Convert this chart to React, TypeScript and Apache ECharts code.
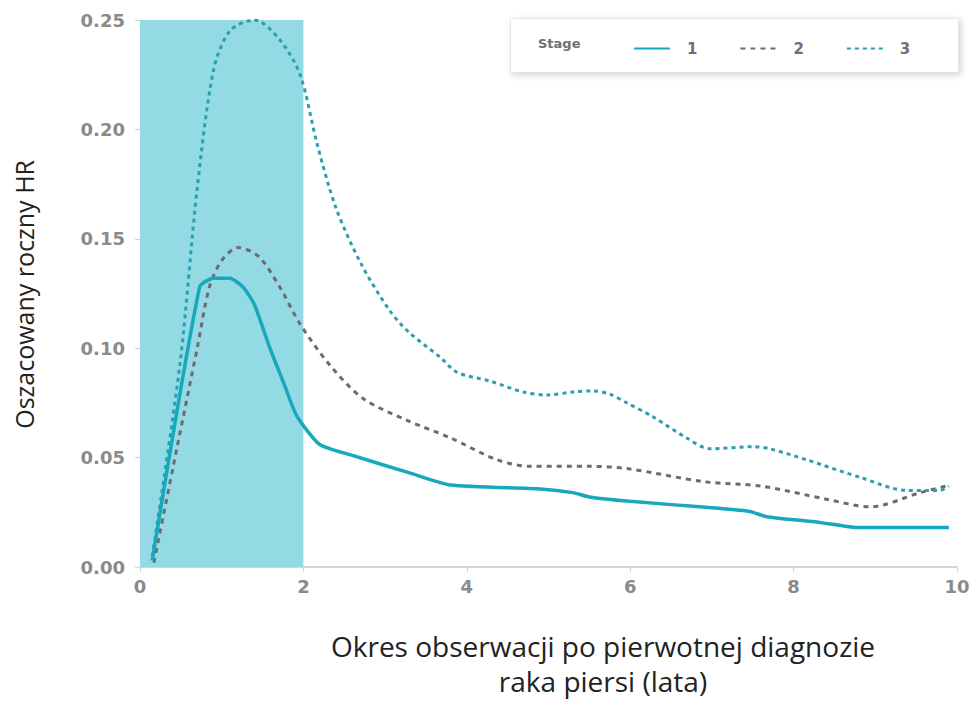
import React, { useEffect, useRef } from "react";
import * as echarts from "echarts";

// Estimated annual hazard ratio by years since primary diagnosis, per stage
const stage1X = [0.15, 0.73, 0.9, 1.1, 1.26, 1.4, 1.59, 1.77, 1.92, 2.2, 2.6, 3.3, 3.8, 4.9, 5.3, 5.5, 6.0, 6.85, 7.45, 7.67, 8.3, 8.8, 9.9];
const stage1Y = [0.003, 0.128, 0.132, 0.132, 0.128, 0.12, 0.1, 0.083, 0.069, 0.056, 0.051, 0.043, 0.0375, 0.0357, 0.034, 0.032, 0.03, 0.0275, 0.0255, 0.023, 0.0205, 0.018, 0.018];

const stage2X = [0.17, 0.45, 0.7, 0.85, 1.0, 1.2, 1.45, 1.71, 1.96, 2.33, 2.73, 3.27, 3.8, 4.37, 4.77, 5.5, 5.96, 6.9, 7.6, 8.4, 8.94, 9.55, 9.92];
const stage2Y = [0.002, 0.054, 0.1, 0.128, 0.14, 0.146, 0.142, 0.128, 0.111, 0.092, 0.077, 0.067, 0.059, 0.049, 0.046, 0.046, 0.045, 0.039, 0.037, 0.031, 0.0275, 0.034, 0.0375];

const stage3X = [0.15, 0.49, 0.7, 0.9, 1.1, 1.4, 1.71, 1.96, 2.17, 2.4, 2.7, 3.06, 3.3, 3.67, 3.88, 4.28, 4.69, 4.98, 5.3, 5.55, 5.75, 5.96, 6.28, 6.69, 6.98, 7.5, 7.71, 8.16, 8.81, 9.39, 9.79, 9.9];
const stage3Y = [0.005, 0.093, 0.173, 0.227, 0.245, 0.25, 0.241, 0.225, 0.193, 0.164, 0.139, 0.117, 0.107, 0.096, 0.089, 0.085, 0.08, 0.0786, 0.08, 0.0805, 0.079, 0.075, 0.0686, 0.059, 0.054, 0.055, 0.054, 0.049, 0.041, 0.035, 0.035, 0.037];

const stageNames = ["1", "2", "3"];
const highlightRange = [0, 2];

const zip = (xs: number[], ys: number[]) => xs.map((x, i) => [x, ys[i]]);

export default function App() {
  const ref = useRef<HTMLDivElement>(null);

  useEffect(() => {
    if (!ref.current) return;
    const chart = echarts.init(ref.current, undefined, { renderer: "svg" });
    const tickFont = { fontFamily: "DejaVu Sans", fontWeight: "bold" as const, color: "#8a8a8a" };

    chart.setOption({
      animation: false,
      backgroundColor: "#ffffff",
      grid: { left: 140, right: 18, top: 20, bottom: 135 },
      xAxis: {
        type: "value",
        min: 0,
        max: 10,
        interval: 2,
        axisLine: { show: true, lineStyle: { color: "#d4d4d4", width: 2 } },
        axisTick: { show: true, length: 5, lineStyle: { color: "#d4d4d4" } },
        axisLabel: { ...tickFont, fontSize: 18, margin: 10 },
        splitLine: { show: false },
      },
      yAxis: {
        type: "value",
        min: 0,
        max: 0.25,
        interval: 0.05,
        axisLine: { show: true, lineStyle: { color: "#e2e2e2", width: 1 } },
        axisTick: { show: true, length: 5, lineStyle: { color: "#d4d4d4" } },
        axisLabel: { ...tickFont, fontSize: 18, margin: 15, formatter: (v: number) => v.toFixed(2) },
        splitLine: { show: false },
      },
      legend: {
        data: stageNames,
        left: 628,
        top: 36,
        itemWidth: 36,
        itemHeight: 12,
        itemGap: 42,
        itemStyle: { opacity: 0 },
        textStyle: { fontFamily: "DejaVu Sans", fontWeight: "bold", fontSize: 15, color: "#6f6f6f", padding: [0, 0, 0, 12] },
      },
      graphic: [
        {
          type: "rect",
          left: 510,
          top: 18,
          shape: { width: 448, height: 54 },
          style: { fill: "#ffffff", stroke: "#e6e6e6", lineWidth: 1, shadowBlur: 6, shadowColor: "rgba(0,0,0,0.18)", shadowOffsetX: 2, shadowOffsetY: 2 },
          z: -1,
        },
        {
          type: "text",
          left: 538,
          top: 37,
          style: { text: "Stage", fontFamily: "DejaVu Sans", fontWeight: "bold", fontSize: 13, fill: "#6f6f6f" },
        },
        {
          type: "text",
          left: 11,
          top: 160,
          rotation: Math.PI / 2,
          style: { text: "Oszacowany roczny HR", fontFamily: "Open Sans", fontSize: 25, fill: "#222222" },
        },
        {
          type: "text",
          x: 603,
          y: 632,
          style: {
            text: "Okres obserwacji po pierwotnej diagnozie",
            fontFamily: "Open Sans",
            fontSize: 28,
            textAlign: "center",
            fill: "#222222",
          },
        },
        {
          type: "text",
          x: 603,
          y: 667,
          style: {
            text: "raka piersi (lata)",
            fontFamily: "Open Sans",
            fontSize: 28,
            textAlign: "center",
            fill: "#222222",
          },
        },
      ],
      series: [
        {
          name: stageNames[0],
          type: "line",
          data: zip(stage1X, stage1Y),
          symbol: "none",
          smooth: 0.2,
          lineStyle: { color: "#18a8bc", width: 3.5, type: "solid" },
          itemStyle: { color: "#18a8bc" },
          z: 3,
          markArea: {
            silent: true,
            itemStyle: { color: "#93dae4", opacity: 1 },
            data: [[{ xAxis: highlightRange[0] }, { xAxis: highlightRange[1] }]],
          },
        },
        {
          name: stageNames[1],
          type: "line",
          data: zip(stage2X, stage2Y),
          symbol: "none",
          smooth: 0.3,
          lineStyle: { color: "#6c6c6c", width: 3, type: [5, 5] },
          itemStyle: { color: "#6c6c6c" },
          z: 2,
        },
        {
          name: stageNames[2],
          type: "line",
          data: zip(stage3X, stage3Y),
          symbol: "none",
          smooth: 0.3,
          lineStyle: { color: "#2b9fb0", width: 3, type: [4, 4] },
          itemStyle: { color: "#2b9fb0" },
          z: 2,
        },
      ],
    });
    return () => chart.dispose();
  }, []);

  return <div ref={ref} style={{ width: 975, height: 702, position: "absolute", left: 0, top: 0 }} />;
}
